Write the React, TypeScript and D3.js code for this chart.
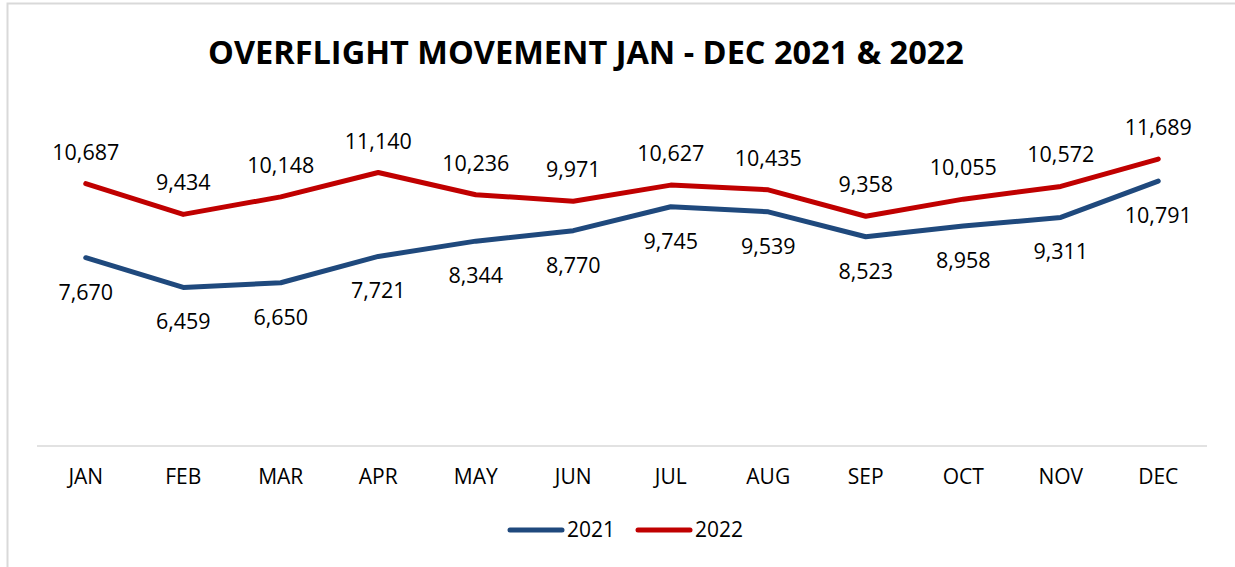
import React from "react";
import * as d3 from "d3";

const months = ["JAN", "FEB", "MAR", "APR", "MAY", "JUN", "JUL", "AUG", "SEP", "OCT", "NOV", "DEC"];
const values2021 = [7670, 6459, 6650, 7721, 8344, 8770, 9745, 9539, 8523, 8958, 9311, 10791];
const values2022 = [10687, 9434, 10148, 11140, 10236, 9971, 10627, 10435, 9358, 10055, 10572, 11689];
const seriesNames = ["2021", "2022"];
const colors = ["#1F497D", "#C00000"];
const title = "OVERFLIGHT MOVEMENT JAN - DEC 2021 & 2022";

const W = 1235;
const H = 567;
const FONT = "'Open Sans', 'Noto Sans', sans-serif";

export default function App() {
  const x = d3.scaleBand<string>().domain(months).range([37, 1207]);
  const y = d3.scaleLinear().domain([0, 14000]).range([446, 102.3]);
  const cx = (m: string) => (x(m) as number) + x.bandwidth() / 2;
  const line = d3
    .line<number>()
    .x((_, i) => cx(months[i]))
    .y((d) => y(d));
  const fmt = d3.format(",");
  const series = [values2021, values2022];

  return (
    <svg
      width={W}
      height={H}
      style={{ position: "absolute", left: 0, top: 0, display: "block", background: "#fff" }}
    >
      <rect x={0} y={0} width={W} height={H} fill="#fff" />
      <path d={`M7.5,${H} V3.5 H${W}`} fill="none" stroke="#d9d9d9" strokeWidth={2} />
      <text
        x={586}
        y={64}
        textAnchor="middle"
        fontFamily={FONT}
        fontWeight="bold"
        fontSize={32.5}
        fill="#000"
      >
        {title}
      </text>
      <line x1={37} x2={1207} y1={446} y2={446} stroke="#d9d9d9" strokeWidth={1.5} />
      {months.map((m) => (
        <text key={m} x={cx(m)} y={484} textAnchor="middle" fontFamily={FONT} fontSize={21} fill="#000">
          {m}
        </text>
      ))}
      {series.map((vals, si) => (
        <path
          key={si}
          d={line(vals) || ""}
          fill="none"
          stroke={colors[si]}
          strokeWidth={5}
          strokeLinejoin="round"
          strokeLinecap="round"
        />
      ))}
      {values2022.map((v, i) => (
        <text
          key={"a" + i}
          x={cx(months[i])}
          y={y(v) - 24}
          textAnchor="middle"
          fontFamily={FONT}
          fontSize={21.5}
          fill="#000"
        >
          {fmt(v)}
        </text>
      ))}
      {values2021.map((v, i) => (
        <text
          key={"b" + i}
          x={cx(months[i])}
          y={y(v) + 42}
          textAnchor="middle"
          fontFamily={FONT}
          fontSize={21.5}
          fill="#000"
        >
          {fmt(v)}
        </text>
      ))}
      {seriesNames.map((n, i) => {
        const lx = i === 0 ? 510 : 638;
        return (
          <g key={n}>
            <line x1={lx} x2={lx + 52} y1={530} y2={530} stroke={colors[i]} strokeWidth={5} strokeLinecap="round" />
            <text x={lx + 57} y={537} fontFamily={FONT} fontSize={21} fill="#000">
              {n}
            </text>
          </g>
        );
      })}
    </svg>
  );
}
